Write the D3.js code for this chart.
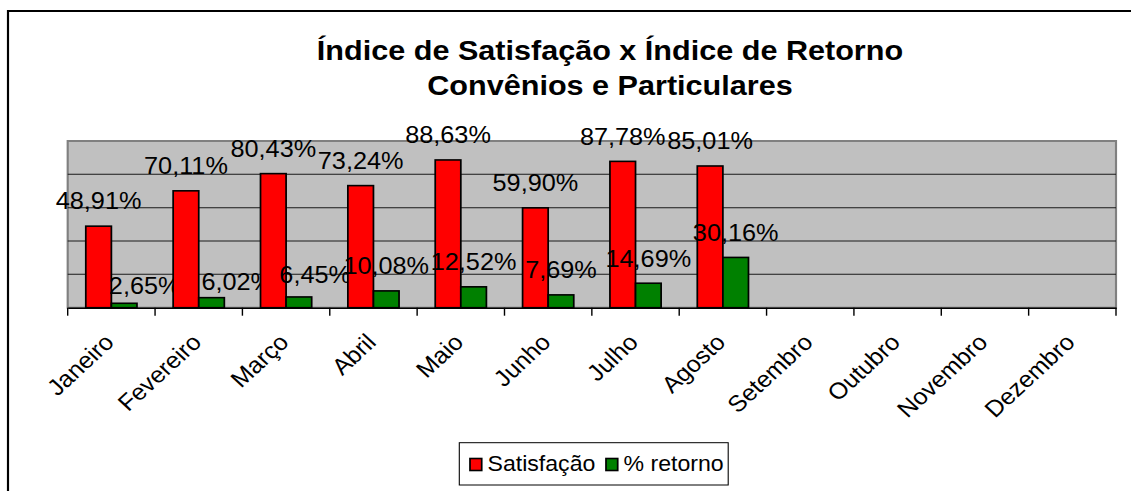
<!DOCTYPE html>
<html><head><meta charset="utf-8">
<script src="https://cdn.jsdelivr.net/npm/d3@7"></script>
<style>
html,body{margin:0;padding:0;background:#fff;overflow:hidden}
text{font-family:"Liberation Sans",Arial,sans-serif;fill:#000}
</style>
</head><body>
<svg id="chart" width="1131" height="491"></svg>
<script>
// ---- data ----
const months = ["Janeiro","Fevereiro","Março","Abril","Maio","Junho","Julho","Agosto","Setembro","Outubro","Novembro","Dezembro"];
const satisfacao = [48.91,70.11,80.43,73.24,88.63,59.90,87.78,85.01,null,null,null,null];
const retorno = [2.65,6.02,6.45,10.08,12.52,7.69,14.69,30.16,null,null,null,null];
const seriesNames = ["Satisfação","% retorno"];
const seriesColors = ["#ff0000","#008000"];
const yTicks = [0,20,40,60,80,100];
const titleLines = ["Índice de Satisfação x Índice de Retorno","Convênios e Particulares"];

// ---- layout (the reference is horizontally stretched) ----
const k = 1.085;
const X = v => v / k;
const svg = d3.select("#chart");
const root = svg.append("g").attr("transform", `scale(${k},1)`);

// outer border
root.append("rect").attr("x", X(8)).attr("y", 11).attr("width", X(1300)).attr("height", 600)
  .attr("fill", "#fff").attr("stroke", "#000").attr("stroke-width", 2);

const plot = {left: X(67.7), right: X(1116), top: 141, bottom: 307.7};
const x = d3.scaleBand().domain(months).range([plot.left, plot.right]).paddingInner(0).paddingOuter(0);
const xs = d3.scaleBand().domain(seriesNames).range([0, x.bandwidth()]).paddingInner(0).paddingOuter(0.707);
const y = d3.scaleLinear().domain([0, 100]).range([plot.bottom, plot.top]);

// plot area
root.append("rect").attr("x", plot.left).attr("y", plot.top)
  .attr("width", plot.right - plot.left).attr("height", plot.bottom - plot.top)
  .attr("fill", "#c0c0c0").attr("stroke", "#808080").attr("stroke-width", 2);

// gridlines
root.append("g").selectAll("line").data(yTicks.filter(t => t > 0 && t < 100)).join("line")
  .attr("x1", plot.left).attr("x2", plot.right)
  .attr("y1", d => y(d)).attr("y2", d => y(d))
  .attr("stroke", "#1a1a1a").attr("stroke-width", 1);

// bars
const rows = months.map((m, i) => ({m, i, vals: [satisfacao[i], retorno[i]]}));
const groups = root.append("g").selectAll("g").data(rows).join("g")
  .attr("transform", d => `translate(${x(d.m)},0)`);
groups.selectAll("rect").data(d => d.vals.map((v, j) => ({v, j, s: seriesNames[j]})).filter(e => e.v != null)).join("rect")
  .attr("x", e => xs(e.s)).attr("width", xs.bandwidth())
  .attr("y", e => y(e.v)).attr("height", e => y(0) - y(e.v))
  .attr("fill", e => seriesColors[e.j]).attr("stroke", "#000").attr("stroke-width", 1.6);

// x axis
const xAxis = root.append("g").attr("transform", `translate(0,${plot.bottom})`)
  .call(d3.axisBottom(x).tickSize(0).tickFormat(""));
xAxis.select(".domain").attr("stroke", "#000").attr("stroke-width", 1.5);
xAxis.selectAll(".tick").remove();
const tickPos = months.map(m => x(m)).concat([plot.right]);
xAxis.append("g").selectAll("line").data(tickPos).join("line")
  .attr("x1", d => d).attr("x2", d => d).attr("y1", 0).attr("y2", 8)
  .attr("stroke", "#000").attr("stroke-width", 1.3);

// x labels
root.append("g").selectAll("text").data(months).join("text")
  .attr("transform", m => `translate(${x(m) + x.bandwidth()/2 + X(4)},${plot.bottom + 36}) rotate(-45)`)
  .attr("text-anchor", "end").attr("font-size", 23).text(m => m);

// value labels
const fmt = v => d3.format(".2f")(v).replace(".", ",") + "%";
// Excel moved a few overlapping labels (series -> month index -> [dx, dy])
const nudges = {1: {0: [20.5, 7.4], 1: [25.7, 8.7], 2: [16.3, 3]}};
groups.selectAll("text").data(d => d.vals.map((v, j) => ({v, j, i: d.i, s: seriesNames[j]})).filter(e => e.v != null)).join("text")
  .attr("x", e => xs(e.s) + xs.bandwidth()/2 + X(((nudges[e.j] || {})[e.i] || [0,0])[0]))
  .attr("y", e => y(e.v) - 16.7 + (((nudges[e.j] || {})[e.i] || [0,0])[1]))
  .attr("text-anchor", "middle").attr("font-size", 23.3).text(e => fmt(e.v));

// title
root.append("g").selectAll("text").data(titleLines).join("text")
  .attr("x", X(610)).attr("y", (d, i) => 60 + i * 35)
  .attr("text-anchor", "middle").attr("font-size", 28.2).attr("font-weight", "bold").text(d => d);

// legend
const lg = root.append("g");
lg.append("rect").attr("x", X(459.3)).attr("y", 442.7).attr("width", X(728.2) - X(459.3)).attr("height", 42.3)
  .attr("fill", "#fff").attr("stroke", "#000").attr("stroke-width", 1);
const legItems = [{name: seriesNames[0], color: seriesColors[0], sx: 470, tx: 487.5},
                  {name: seriesNames[1], color: seriesColors[1], sx: 606, tx: 623.5}];
legItems.forEach(it => {
  lg.append("rect").attr("x", X(it.sx)).attr("y", 458.5).attr("width", X(11.7)).attr("height", 12)
    .attr("fill", it.color).attr("stroke", "#000").attr("stroke-width", 1.6);
  lg.append("text").attr("x", X(it.tx)).attr("y", 471.5).attr("font-size", 21.3).text(it.name);
});
</script>
</body></html>
